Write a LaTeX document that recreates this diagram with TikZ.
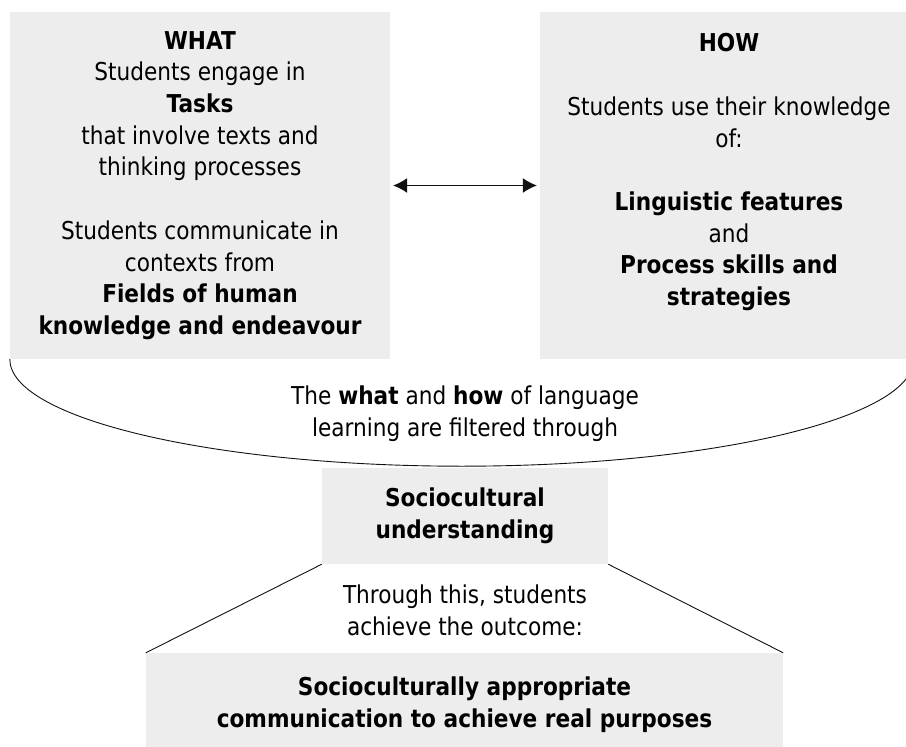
\documentclass[tikz,border=0pt]{standalone}
\usepackage{fontspec}
\setmainfont{DejaVu Sans}[FakeStretch=0.88]
\usetikzlibrary{arrows.meta}
\definecolor{boxfill}{HTML}{EDEDED}
\definecolor{darkline}{HTML}{111111}
\tikzset{
  panel/.style={
    rectangle,
    fill=boxfill,
    inner sep=0pt,
    align=center,
    font=\fontsize{24.6}{31.7}\selectfont
  },
  caption/.style={
    align=center,
    inner sep=0pt,
    font=\fontsize{24.6}{31.7}\selectfont
  },
  flow/.style={
    {Latex[length=14pt,width=15pt]}-{Latex[length=14pt,width=15pt]},
    line width=1.1pt,
    draw=darkline,
    shorten <=3pt,
    shorten >=3pt
  },
  link/.style={
    line width=0.9pt,
    draw=darkline
  }
}

\begin{document}
\begin{tikzpicture}[x=1pt, y=1pt]
\useasboundingbox (0,0) rectangle (906,-747);

% Top boxes.
\node[panel, minimum width=380pt, minimum height=347pt] (what) at (200,-185.5)
  {\textbf{WHAT}\\Students engage in\\\textbf{Tasks}\\that involve texts and\\thinking processes\\[31.7pt]
   Students communicate in\\contexts from\\\textbf{Fields of human}\\\textbf{knowledge and endeavour}};
\node[panel, minimum width=378pt, minimum height=347pt] (how) at (729,-185.5)
  {\textbf{HOW}\\[31.7pt]Students use their knowledge\\of:\\[31.7pt]
   \textbf{Linguistic features}\\and\\\textbf{Process skills and}\\\textbf{strategies}\\\mbox{}};
\draw[flow] (what.east) -- (how.west);

% Filter.
\node[caption] (filter) at (465,-414)
  {The \textbf{what} and \textbf{how} of language\\learning are filtered through};
\draw[link] (what.south west) arc[start angle=180, end angle=360, x radius=452pt, y radius=107pt];

\node[panel, minimum width=286pt, minimum height=96pt] (socio) at (465,-516)
  {\textbf{Sociocultural}\\\textbf{understanding}};

% Outcome.
\node[caption] (through) at (465,-610)
  {Through this, students\\achieve the outcome:};
\node[panel, minimum width=637pt, minimum height=104pt] (outcome) at (464.5,-705)
  {\textbf{Socioculturally appropriate}\\\textbf{communication to achieve real purposes}};
\draw[link] (socio.south west) -- (outcome.north west);
\draw[link] (socio.south east) -- (outcome.north east);

\end{tikzpicture}
\end{document}
